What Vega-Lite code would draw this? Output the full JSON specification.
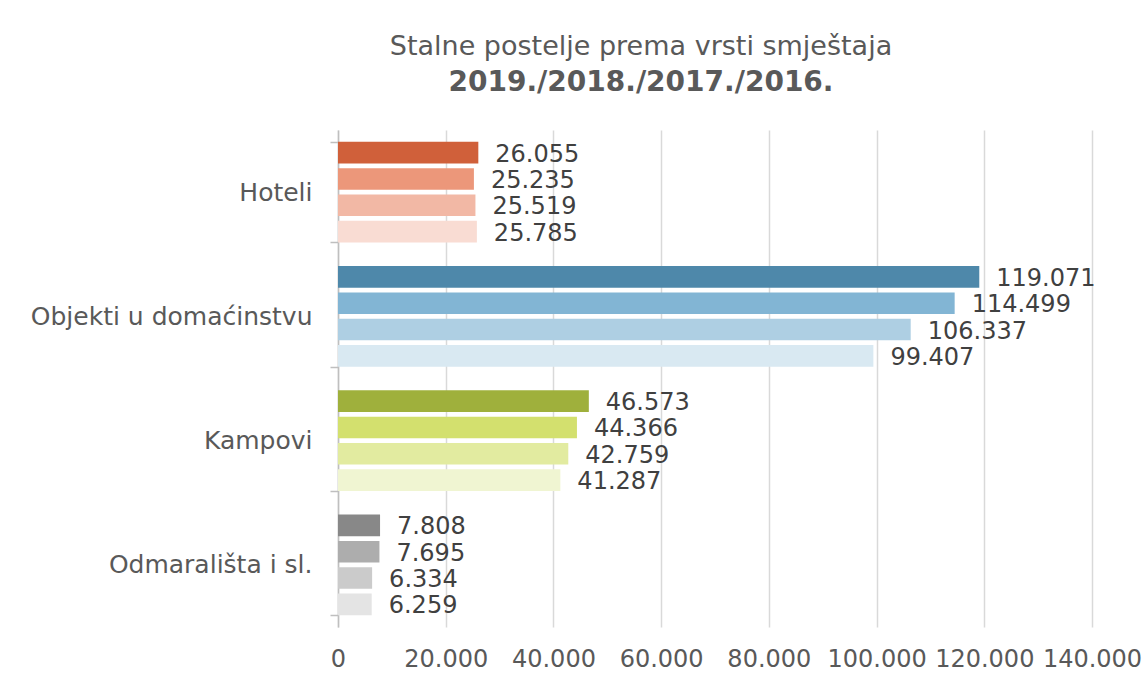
{
  "$schema": "https://vega.github.io/schema/vega-lite/v6.json",
  "width": 754,
  "height": 497,
  "autosize": {"type": "none"},
  "padding": {"left": 338, "top": 130, "right": 54, "bottom": 52},
  "background": "white",
  "config": {
    "locale": {"number": {"decimal": ",", "thousands": ".", "grouping": [3], "currency": ["", ""]}},
    "view": {"stroke": null},
    "font": "DejaVu Sans"
  },
  "title": {
    "text": "Stalne postelje prema vrsti smještaja",
    "subtitle": "2019./2018./2017./2016.",
    "anchor": "middle",
    "dx": -74,
    "offset": 20,
    "font": "DejaVu Sans",
    "fontSize": 27,
    "fontWeight": "normal",
    "color": "#595959",
    "subtitleFont": "DejaVu Sans",
    "subtitleFontSize": 28,
    "subtitleFontWeight": "bold",
    "subtitleColor": "#595959",
    "subtitlePadding": 8
  },
  "data": {
    "values": [
      {"cat": "Hoteli", "year": "2019", "value": 26055},
      {"cat": "Hoteli", "year": "2018", "value": 25235},
      {"cat": "Hoteli", "year": "2017", "value": 25519},
      {"cat": "Hoteli", "year": "2016", "value": 25785},
      {"cat": "Objekti u domaćinstvu", "year": "2019", "value": 119071},
      {"cat": "Objekti u domaćinstvu", "year": "2018", "value": 114499},
      {"cat": "Objekti u domaćinstvu", "year": "2017", "value": 106337},
      {"cat": "Objekti u domaćinstvu", "year": "2016", "value": 99407},
      {"cat": "Kampovi", "year": "2019", "value": 46573},
      {"cat": "Kampovi", "year": "2018", "value": 44366},
      {"cat": "Kampovi", "year": "2017", "value": 42759},
      {"cat": "Kampovi", "year": "2016", "value": 41287},
      {"cat": "Odmarališta i sl.", "year": "2019", "value": 7808},
      {"cat": "Odmarališta i sl.", "year": "2018", "value": 7695},
      {"cat": "Odmarališta i sl.", "year": "2017", "value": 6334},
      {"cat": "Odmarališta i sl.", "year": "2016", "value": 6259}
    ]
  },
  "transform": [{"calculate": "datum.cat + '|' + datum.year", "as": "key"}],
  "encoding": {
    "y": {
      "field": "cat",
      "type": "nominal",
      "sort": ["Hoteli", "Objekti u domaćinstvu", "Kampovi", "Odmarališta i sl."],
      "scale": {"paddingInner": 0.19, "paddingOuter": 0.095},
      "axis": {
        "title": null,
        "domainColor": "#BFBFBF",
        "domainWidth": 1.5,
        "tickColor": "#BFBFBF",
        "tickWidth": 1.5,
        "tickSize": 8,
        "tickBand": "extent",
        "labelFontSize": 25,
        "labelColor": "#595959",
        "labelPadding": 18,
        "labelLimit": 400,
        "labelFont": "DejaVu Sans"
      }
    },
    "yOffset": {
      "field": "year",
      "type": "nominal",
      "sort": ["2019", "2018", "2017", "2016"],
      "scale": {"paddingInner": 0.18, "paddingOuter": 0}
    },
    "x": {
      "field": "value",
      "type": "quantitative",
      "scale": {"domain": [0, 140000], "nice": false},
      "axis": {
        "title": null,
        "values": [0, 20000, 40000, 60000, 80000, 100000, 120000, 140000],
        "format": ",d",
        "domain": false,
        "ticks": false,
        "grid": true,
        "gridColor": "#D9D9D9",
        "gridWidth": 1.5,
        "labelFontSize": 24,
        "labelColor": "#595959",
        "labelPadding": 20,
        "labelFont": "DejaVu Sans",
        "labelFlush": false
      }
    }
  },
  "layer": [
    {
      "mark": {"type": "bar"},
      "encoding": {
        "color": {
          "field": "key",
          "type": "nominal",
          "legend": null,
          "scale": {
            "domain": [
              "Hoteli|2019", "Hoteli|2018", "Hoteli|2017", "Hoteli|2016",
              "Objekti u domaćinstvu|2019", "Objekti u domaćinstvu|2018", "Objekti u domaćinstvu|2017", "Objekti u domaćinstvu|2016",
              "Kampovi|2019", "Kampovi|2018", "Kampovi|2017", "Kampovi|2016",
              "Odmarališta i sl.|2019", "Odmarališta i sl.|2018", "Odmarališta i sl.|2017", "Odmarališta i sl.|2016"
            ],
            "range": [
              "#D0603A", "#EC977A", "#F2B8A5", "#F9DCD3",
              "#4E88AA", "#82B5D4", "#AECFE3", "#D9E9F2",
              "#9FB03C", "#D3E06E", "#E2EBA0", "#F0F5D2",
              "#888888", "#ADADAD", "#CBCBCB", "#E4E4E4"
            ]
          }
        }
      }
    },
    {
      "mark": {"type": "text", "align": "left", "baseline": "middle", "dx": 17, "dy": 2, "fontSize": 24, "color": "#404040", "font": "DejaVu Sans"},
      "encoding": {
        "text": {"field": "value", "type": "quantitative", "format": ","}
      }
    }
  ]
}
